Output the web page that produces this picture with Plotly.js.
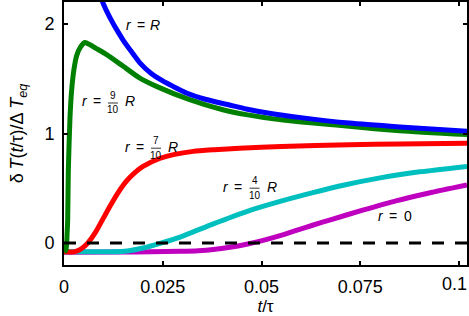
<!DOCTYPE html>
<html>
<head>
<meta charset="utf-8">
<script src="https://cdn.plot.ly/plotly-3.0.1.min.js"></script>
<style>
  html, body { margin: 0; padding: 0; background: #fff; }
  #chart { width: 469px; height: 316px; }
</style>
</head>
<body>
<div id="chart"></div>
<script>
// ---------- DATA ----------
const tBlue = [0.0090, 0.0100, 0.0113, 0.0125, 0.0133, 0.0150, 0.0170, 0.0192, 0.0220, 0.0250, 0.0276, 0.0310, 0.0360, 0.0419, 0.0461, 0.0520, 0.0600, 0.0722, 0.0850, 0.1020];
const vBlue = [2.28, 2.18, 2.08, 2.00, 1.95, 1.85, 1.75, 1.645, 1.55, 1.48, 1.43, 1.37, 1.31, 1.26, 1.224, 1.185, 1.145, 1.095, 1.06, 1.02];

const tGreen = [0.0000, 0.0005, 0.0008, 0.00093, 0.0011, 0.0015, 0.0019, 0.0025, 0.0032, 0.0042, 0.0053, 0.0066, 0.0080, 0.0108, 0.0150, 0.0190, 0.0234, 0.0318, 0.0402, 0.0461, 0.0550, 0.0722, 0.0850, 0.1020];
const vGreen = [-0.08, -0.06, 0.10, 0.21, 0.67, 1.13, 1.38, 1.58, 1.71, 1.79, 1.83, 1.81, 1.78, 1.72, 1.613, 1.51, 1.43, 1.309, 1.217, 1.172, 1.125, 1.065, 1.025, 0.99];

const tRed = [0.0000, 0.0025, 0.0040, 0.0050, 0.0060, 0.0080, 0.0100, 0.0116, 0.0135, 0.0158, 0.0180, 0.0200, 0.0242, 0.0280, 0.0327, 0.0380, 0.0444, 0.0550, 0.0722, 0.0850, 0.1020];
const vRed = [-0.08, -0.08, -0.06, -0.035, 0.0, 0.10, 0.23, 0.334, 0.45, 0.565, 0.645, 0.70, 0.772, 0.81, 0.837, 0.852, 0.866, 0.882, 0.898, 0.905, 0.912];

const tCyan = [0.0000, 0.0120, 0.0160, 0.0200, 0.0245, 0.0294, 0.0378, 0.0462, 0.0547, 0.0630, 0.0710, 0.0800, 0.0900, 0.1020];
const vCyan = [-0.08, -0.079, -0.072, -0.045, 0.0, 0.055, 0.176, 0.288, 0.38, 0.46, 0.53, 0.595, 0.65, 0.70];

const tMag = [0.0000, 0.0150, 0.0220, 0.0294, 0.0340, 0.0378, 0.0420, 0.0462, 0.0504, 0.0547, 0.0590, 0.0631, 0.0672, 0.0756, 0.0840, 0.0924, 0.1020];
const vMag = [-0.083, -0.082, -0.08, -0.075, -0.069, -0.058, -0.038, -0.010, 0.025, 0.068, 0.118, 0.165, 0.21, 0.300, 0.385, 0.457, 0.530];

const tZero = [0, 0.102];
const vZero = [0, 0];

const xTickVals = [0, 0.025, 0.05, 0.075, 0.1];
const xTickText = ['0', '0.025', '0.05', '0.075', '0.1'];
const yTickVals = [0, 1, 2];
const yTickText = ['0', '1', '2'];

// curve labels: "r = <num>/<den> <tail>"
const labelNum  = [null, '9', '7', '4', null];
const labelDen  = [null, '10', '10', '10', null];
const labelTail = ['R', 'R', 'R', 'R', '0'];

// ---------- LAYOUT / STYLE ----------
const W = 469, H = 316;
const M = {l: 64, r: 2, t: 2, b: 51};
const PW = W - M.l - M.r, PH = H - M.t - M.b;
const px = x => (x - M.l) / PW;          // pixel -> paper
const py = y => (H - M.b - y) / PH;

const FONT = 'Liberation Sans, Arial, Helvetica, sans-serif';
const colors = ['#0000ff', '#008000', '#ff0000', '#00bfbf', '#bf00bf'];
const series = [[tBlue, vBlue], [tGreen, vGreen], [tRed, vRed], [tCyan, vCyan], [tMag, vMag]];

const traces = [];
// draw order: magenta at back
[4, 3, 2, 1, 0].forEach(i => {
  traces.push({
    x: series[i][0], y: series[i][1], mode: 'lines', type: 'scatter',
    line: {color: colors[i], width: 5, shape: 'spline', smoothing: 0.6},
    hoverinfo: 'skip', showlegend: false
  });
});
traces.push({
  x: tZero, y: vZero, mode: 'lines', type: 'scatter',
  line: {color: '#000', width: 3, dash: '12px,11px'},
  hoverinfo: 'skip', showlegend: false
});

// label anchor positions (pixel centre of the "r" glyph)
const labelPos = [[128.5, 25], [84.5, 101.5], [127.5, 146.7], [226, 186.7], [381, 216]];
const annotations = [];
const shapes = [];
labelPos.forEach((p, i) => {
  const [x, y] = p;
  const base = {xref: 'paper', yref: 'paper', showarrow: false,
                xanchor: 'center', yanchor: 'middle', font: {family: FONT, size: 14, color: '#000'}};
  annotations.push(Object.assign({}, base, {x: px(x), y: py(y), text: '<i>r</i>'}));
  annotations.push(Object.assign({}, base, {x: px(x + 12), y: py(y), text: '='}));
  if (labelNum[i]) {
    const fx = x + 28.5;
    annotations.push(Object.assign({}, base, {x: px(fx), y: py(y - 6), text: labelNum[i], font: {family: FONT, size: 10, color: '#000'}}));
    annotations.push(Object.assign({}, base, {x: px(fx), y: py(y + 8.5), text: labelDen[i], font: {family: FONT, size: 10, color: '#000'}}));
    shapes.push({type: 'line', xref: 'paper', yref: 'paper', x0: px(fx - 5), x1: px(fx + 5), y0: py(y + 1.5), y1: py(y + 1.5), line: {color: '#000', width: 0.8}});
    annotations.push(Object.assign({}, base, {x: px(x + 45.5), y: py(y), text: '<i>' + labelTail[i] + '</i>'}));
  } else {
    const off = labelTail[i] === '0' ? 27 : 26.5;
    const t = labelTail[i] === '0' ? labelTail[i] : '<i>' + labelTail[i] + '</i>';
    annotations.push(Object.assign({}, base, {x: px(x + off), y: py(y), text: t}));
  }
});

// the last x tick label sits at the page edge: draw it as an annotation tied to
// the x scale, nudged left so it stays inside the page
const lastTick = xTickVals.length - 1;
const xTickShown = xTickText.map((s, i) => i === lastTick ? '' : s);
annotations.push({
  xref: 'x', yref: 'paper', x: xTickVals[lastTick], y: py(283.5),
  xanchor: 'center', yanchor: 'middle', xshift: -5, showarrow: false,
  text: xTickText[lastTick], font: {family: FONT, size: 18, color: '#000'}
});

const axisCommon = {
  showline: true, linewidth: 2, linecolor: '#000', mirror: 'ticks',
  ticks: 'inside', ticklen: 4, tickwidth: 2, tickcolor: '#000',
  showgrid: false, zeroline: false, fixedrange: true,
  tickfont: {family: FONT, size: 18, color: '#000'}
};

const layout = {
  width: W, height: H,
  margin: M,
  paper_bgcolor: '#fff', plot_bgcolor: '#fff',
  showlegend: false,
  xaxis: Object.assign({}, axisCommon, {
    range: [0, 0.102], tickmode: 'array', tickvals: xTickVals, ticktext: xTickShown,
    ticklabelstandoff: 4,
    title: {text: '<i>t</i>/τ', font: {family: FONT, size: 17, color: '#000'}, standoff: 5}
  }),
  yaxis: Object.assign({}, axisCommon, {
    range: [-0.2, 2.2], tickmode: 'array', tickvals: yTickVals, ticktext: yTickText,
    ticklabelstandoff: 4,
    title: {text: 'δ\u2009<i>T</i>(<i>t</i>/τ)/Δ\u2009<i>T</i><sub><i>eq</i></sub>', font: {family: FONT, size: 18, color: '#000'}, standoff: 16}
  }),
  annotations: annotations,
  shapes: shapes
};

Plotly.newPlot('chart', traces, layout, {staticPlot: true, displayModeBar: false});
</script>
</body>
</html>
